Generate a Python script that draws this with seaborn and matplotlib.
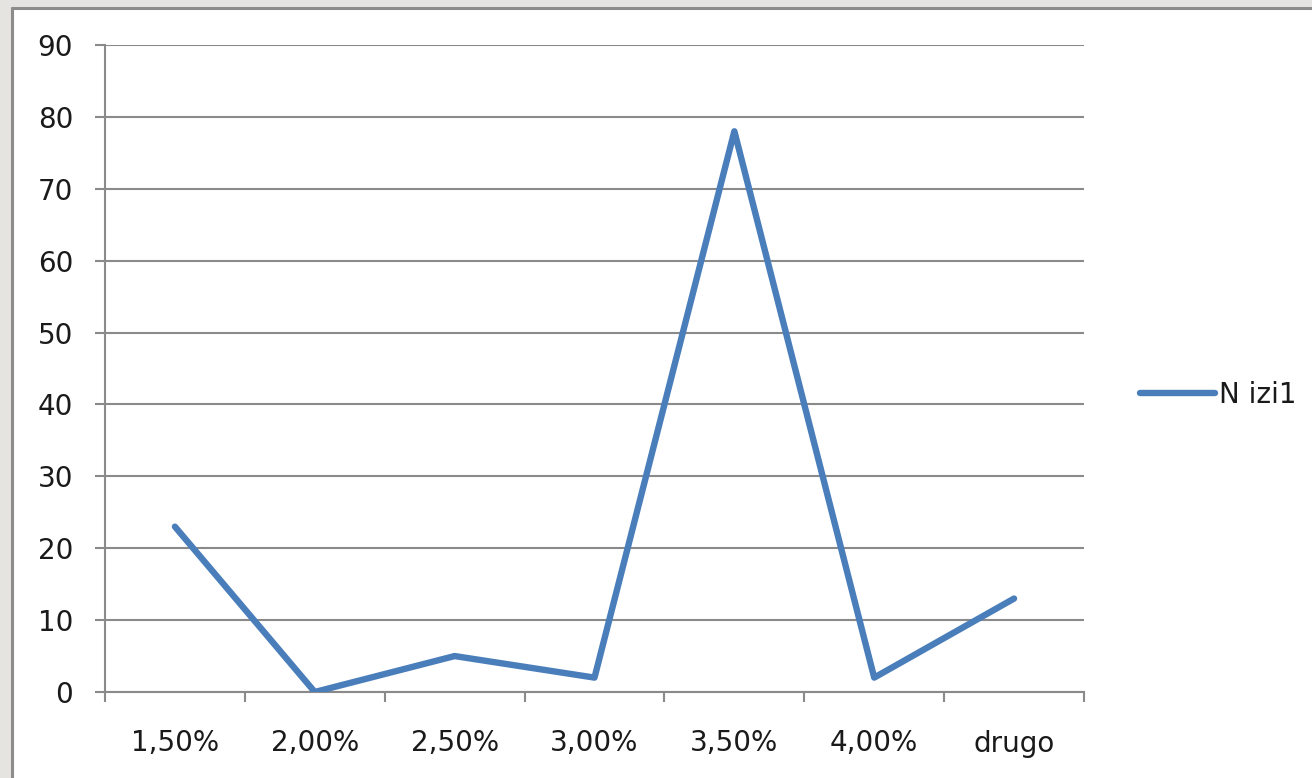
import matplotlib
matplotlib.use("Agg")
import matplotlib.pyplot as plt
from matplotlib.patches import Rectangle
from matplotlib.lines import Line2D
import seaborn as sns
import pandas as pd
import numpy as np

# Data
categories = ["1,50%", "2,00%", "2,50%", "3,00%", "3,50%", "4,00%", "drugo"]
values = [23, 0, 5, 2, 78, 2, 13]
series_name = "N izi1"
y_ticks = [0, 10, 20, 30, 40, 50, 60, 70, 80, 90]

sns.set_theme(style="white")
plt.rcParams["font.family"] = ["DejaVu Sans"]

LINE_COLOR = "#4a7ebb"
GRID_COLOR = "#8a8a8a"
TEXT_COLOR = "#1a1a1a"

W, H = 1312, 778
fig = plt.figure(figsize=(W / 100, H / 100), dpi=100)
fig.patch.set_facecolor("#e6e4e0")

# white chart area with a darker frame on top and left, kept behind the axes
fig.patches.append(Rectangle((12 / W, 0), 1 - 12 / W, 1 - 8 / H,
                             transform=fig.transFigure, facecolor="white",
                             edgecolor="none", zorder=-5))
fig.lines.append(Line2D([12 / W, 1], [1 - 8 / H, 1 - 8 / H], transform=fig.transFigure,
                        color="#8c8c8c", lw=2.2, zorder=-4))
fig.lines.append(Line2D([12 / W, 12 / W], [0, 1 - 8 / H], transform=fig.transFigure,
                        color="#8c8c8c", lw=2.2, zorder=-4))

left, right = 105 / W, 1084 / W
bottom, top = 1 - 692 / H, 1 - 45 / H
ax = fig.add_axes([left, bottom, right - left, top - bottom])
ax.set_facecolor("none")

df = pd.DataFrame({"kategorija": categories, "vrijednost": values})
sns.lineplot(data=df, x="kategorija", y="vrijednost", ax=ax, color=LINE_COLOR,
             linewidth=4.6, sort=False, label=series_name,
             solid_capstyle="round", solid_joinstyle="round", zorder=3)

n = len(categories)
ax.set_xlim(-0.5, n - 0.5)
ax.set_ylim(0, 90)
ax.set_xlabel("")
ax.set_ylabel("")

# y axis
ax.set_yticks(y_ticks)
ax.set_yticklabels([str(v) for v in y_ticks])
ax.yaxis.grid(True, color=GRID_COLOR, linewidth=1.5)
ax.set_axisbelow(True)

# x axis: tick marks between categories, labels centred on categories
ax.set_xticks(np.arange(-0.5, n, 1.0))
ax.set_xticklabels([""] * (n + 1))
ax.set_xticks(np.arange(n), minor=True)
ax.set_xticklabels(categories, minor=True)

ax.tick_params(axis="y", which="major", direction="out", length=7, width=1.5,
               color=GRID_COLOR, left=True, pad=16, labelsize=20, labelcolor=TEXT_COLOR)
ax.tick_params(axis="x", which="major", direction="out", length=7, width=1.5,
               color=GRID_COLOR, bottom=True)
ax.tick_params(axis="x", which="minor", length=0, pad=27, labelsize=20,
               labelcolor=TEXT_COLOR, bottom=True)

for side in ["top", "right"]:
    ax.spines[side].set_visible(False)
for side in ["left", "bottom"]:
    ax.spines[side].set_visible(True)
    ax.spines[side].set_color(GRID_COLOR)
    ax.spines[side].set_linewidth(1.5)

leg = ax.legend(loc="center left", bbox_to_anchor=(1140 / W, 1 - 395 / H),
                bbox_transform=fig.transFigure, frameon=False, fontsize=20,
                handlelength=2.7, handletextpad=0.15, borderpad=0, borderaxespad=0)
for t in leg.get_texts():
    t.set_color(TEXT_COLOR)

fig.savefig("out.png", dpi=100)
